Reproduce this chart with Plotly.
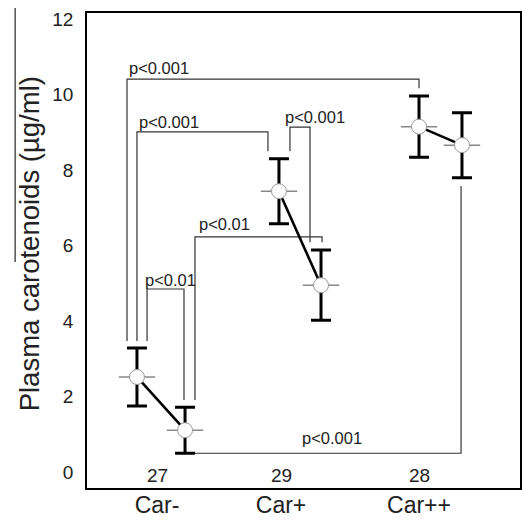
import plotly.graph_objects as go

# ---- data ----
groups = ["Car-", "Car+", "Car++"]
group_tick_x = [1.0, 1.947, 3.0]
n_labels = ["27", "29", "28"]

point_x = [0.847, 1.214, 1.931, 2.252, 3.0, 3.328]
means = [2.52, 1.11, 7.44, 4.95, 9.15, 8.66]
errs = [0.77, 0.61, 0.86, 0.93, 0.81, 0.86]
pair_index = [[0, 1], [2, 3], [4, 5]]

# significance brackets: path x, path y, label, label x (left), label y
bracket_x = [
    [0.771, 0.771, 3.0, 3.0],
    [0.847, 0.847, 1.847, 1.847],
    [2.015, 2.015, 2.168, 2.168],
    [1.290, 1.290, 2.260, 2.260],
    [0.924, 0.924, 1.206, 1.206],
    [1.290, 3.321, 3.321],
]
bracket_y = [
    [3.47, 10.41, 10.41, 10.17],
    [3.47, 9.01, 9.01, 8.50],
    [8.50, 9.14, 9.14, 6.09],
    [1.91, 6.23, 6.23, 6.09],
    [3.47, 4.85, 4.85, 1.91],
    [0.50, 0.50, 7.58],
]
p_labels = ["p<0.001", "p<0.001", "p<0.001", "p<0.01", "p<0.01", "p<0.001"]
p_label_x = [0.771, 0.847, 1.962, 1.305, 0.893, 2.092]
p_label_y = [10.70, 9.27, 9.40, 6.57, 5.09, 0.90]

y_ticks = [0, 2, 4, 6, 8, 10, 12]
y_title = "Plasma carotenoids (µg/ml)"

FONT = "Liberation Sans, Arial, sans-serif"

fig = go.Figure()

# brackets
for bx, by in zip(bracket_x, bracket_y):
    fig.add_trace(go.Scatter(x=bx, y=by, mode="lines",
                             line=dict(color="#333333", width=1.2),
                             hoverinfo="skip", showlegend=False))

# connecting lines
for a, b in pair_index:
    fig.add_trace(go.Scatter(x=[point_x[a], point_x[b]], y=[means[a], means[b]],
                             mode="lines", line=dict(color="black", width=2.6),
                             hoverinfo="skip", showlegend=False))

# error bars
fig.add_trace(go.Scatter(x=point_x, y=means, mode="markers",
                         marker=dict(size=1, color="rgba(0,0,0,0)"),
                         error_y=dict(type="data", array=errs, visible=True,
                                      color="black", thickness=3, width=10),
                         hoverinfo="skip", showlegend=False))

# horizontal dashes at means
fig.add_trace(go.Scatter(x=point_x, y=means, mode="markers",
                         marker=dict(symbol="line-ew", size=26,
                                     line=dict(color="#888888", width=1.5)),
                         hoverinfo="skip", showlegend=False))

# circles
fig.add_trace(go.Scatter(x=point_x, y=means, mode="markers",
                         marker=dict(symbol="circle", size=15, color="white",
                                     line=dict(color="#9a9a9a", width=1)),
                         showlegend=False))

annotations = []
for lab, lx, ly in zip(p_labels, p_label_x, p_label_y):
    annotations.append(dict(x=lx, y=ly, xref="x", yref="y", text=lab,
                            showarrow=False, xanchor="left", yanchor="middle",
                            font=dict(size=16.5, color="#222222", family=FONT)))
for lab, lx in zip(n_labels, group_tick_x):
    annotations.append(dict(x=lx, y=-0.08, xref="x", yref="y", text=lab,
                            showarrow=False, xanchor="center", yanchor="middle",
                            font=dict(size=19, color="#222222", family=FONT)))
annotations.append(dict(x=-0.134, y=0.515, xref="paper", yref="paper",
                        text=y_title, textangle=-90, showarrow=False,
                        xanchor="center", yanchor="middle",
                        font=dict(size=27.5, color="#222222", family=FONT)))

fig.update_layout(
    width=522, height=521,
    margin=dict(l=87, r=2, t=13, b=33),
    paper_bgcolor="white", plot_bgcolor="white",
    font=dict(family=FONT, color="#222222"),
    annotations=annotations,
    shapes=[dict(type="line", xref="paper", yref="paper",
                 x0=-0.166, x1=-0.166, y0=0.4758, y1=1.0105,
                 line=dict(color="#222222", width=1.2))],
)
fig.update_xaxes(range=[0.4656, 3.771], tickvals=group_tick_x, ticktext=groups,
                 showgrid=False, zeroline=False, showline=True, mirror=True,
                 linecolor="black", linewidth=1.5, ticks="", automargin=False,
                 ticklabelstandoff=-4,
                 tickfont=dict(size=23, color="#222222", family=FONT))
fig.update_yaxes(range=[-0.42, 12.16], tickvals=y_ticks,
                 showgrid=False, zeroline=False, showline=True, mirror=True,
                 linecolor="black", linewidth=1.5, ticks="", automargin=False,
                 ticklabelstandoff=8,
                 tickfont=dict(size=19, color="#222222", family=FONT))

fig.write_html("out.html",
               config={"displayModeBar": False},
               post_script="document.body.style.margin='0';document.body.style.overflow='hidden';")
